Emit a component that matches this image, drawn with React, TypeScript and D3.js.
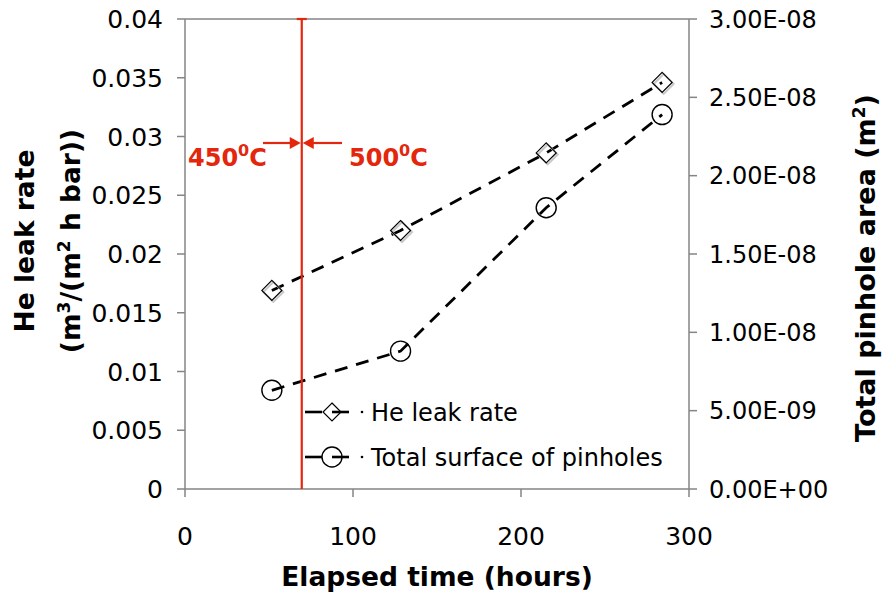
import React from "react";
import * as d3 from "d3";

const hours = [51.7, 128.3, 215, 284];
const heLeak = [0.0169, 0.0220, 0.0286, 0.0346];
const pinholeArea = [6.3e-9, 8.8e-9, 1.795e-8, 2.39e-8];
const xTicks = [0, 100, 200, 300];
const yLeftTicks = [0, 0.005, 0.01, 0.015, 0.02, 0.025, 0.03, 0.035, 0.04];
const yLeftLabels = ["0", "0.005", "0.01", "0.015", "0.02", "0.025", "0.03", "0.035", "0.04"];
const yRightTicks = [0, 5e-9, 1e-8, 1.5e-8, 2e-8, 2.5e-8, 3e-8];
const yRightLabels = ["0.00E+00", "5.00E-09", "1.00E-08", "1.50E-08", "2.00E-08", "2.50E-08", "3.00E-08"];
const transitionHour = 69.5;

const W = 884, H = 592;
const L = 185, R = 689, T = 19, B = 489;
const FONT = "'DejaVu Sans', Verdana, sans-serif";
const RED = "#e3260c";
const GRAY = "#858585";

export default function App() {
  const x = d3.scaleLinear().domain([0, 300]).range([L, R]);
  const yL = d3.scaleLinear().domain([0, 0.04]).range([B, T]);
  const yR = d3.scaleLinear().domain([0, 3e-8]).range([B, T]);

  const lineL = d3.line<number>().x((_, i) => x(hours[i])).y((d) => yL(d));
  const lineR = d3.line<number>().x((_, i) => x(hours[i])).y((d) => yR(d));

  const diamond = (cx: number, cy: number, r = 10) =>
    `M${cx},${cy - r}L${cx + r},${cy}L${cx},${cy + r}L${cx - r},${cy}Z`;

  const xr = x(transitionHour);
  const arrowY = 143;
  const TF = 26.5;

  return (
    <svg width={W} height={H} style={{ position: "absolute", left: 0, top: 0, background: "#fff" }} fontFamily={FONT}>
      <rect x={0} y={0} width={W} height={H} fill="#fff" />
      {/* frame */}
      <line x1={L} x2={R} y1={T} y2={T} stroke={GRAY} strokeWidth={1.5} />
      <line x1={L} x2={L} y1={T} y2={B} stroke={GRAY} strokeWidth={1.5} />
      <line x1={R} x2={R} y1={T} y2={B} stroke={GRAY} strokeWidth={1.5} />
      <line x1={L} x2={R} y1={B} y2={B} stroke={GRAY} strokeWidth={1.5} />

      {/* left ticks */}
      {yLeftTicks.map((t, i) => (
        <g key={"yl" + i}>
          <line x1={L - 8} x2={L} y1={yL(t)} y2={yL(t)} stroke={GRAY} strokeWidth={1.5} />
          <text x={163} y={yL(t)} dy="0.36em" textAnchor="end" fontSize={25} fill="#000">
            {yLeftLabels[i]}
          </text>
        </g>
      ))}
      {/* right ticks */}
      {yRightTicks.map((t, i) => (
        <g key={"yr" + i}>
          <line x1={R} x2={R + 8} y1={yR(t)} y2={yR(t)} stroke={GRAY} strokeWidth={1.5} />
          <text x={709} y={yR(t)} dy="0.36em" textAnchor="start" fontSize={24} fill="#000">
            {yRightLabels[i]}
          </text>
        </g>
      ))}
      {/* x ticks */}
      {xTicks.map((t, i) => (
        <g key={"x" + i}>
          <line x1={x(t)} x2={x(t)} y1={B} y2={B + 8} stroke={GRAY} strokeWidth={1.5} />
          <text x={x(t)} y={545} textAnchor="middle" fontSize={25} fill="#000">
            {t}
          </text>
        </g>
      ))}

      {/* axis titles */}
      <text x={437} y={586} textAnchor="middle" fontSize={TF} fontWeight="bold">
        Elapsed time (hours)
      </text>
      <g transform="translate(24,241) rotate(-90)">
        <text x={0} y={0} dy="0.36em" textAnchor="middle" fontSize={TF} fontWeight="bold">
          He leak rate
        </text>
      </g>
      <g transform="translate(70,241) rotate(-90)">
        <text x={0} y={0} dy="0.36em" textAnchor="middle" fontSize={TF} fontWeight="bold">
          (m<tspan dy="-10" fontSize={17}>3</tspan>
          <tspan dy="10">/(m</tspan>
          <tspan dy="-10" fontSize={17}>2</tspan>
          <tspan dy="10"> h bar))</tspan>
        </text>
      </g>
      <g transform="translate(865,268) rotate(-90)">
        <text x={0} y={0} dy="0.36em" textAnchor="middle" fontSize={27} fontWeight="bold">
          Total pinhole area (m<tspan dy="-10" fontSize={17}>2</tspan>
          <tspan dy="10">)</tspan>
        </text>
      </g>

      {/* series */}
      <path d={lineL(heLeak) || ""} fill="none" stroke="#000" strokeWidth={2.8} strokeDasharray="13,9" />
      <path d={lineR(pinholeArea) || ""} fill="none" stroke="#000" strokeWidth={2.8} strokeDasharray="13,9" />
      {heLeak.map((v, i) => (
        <g key={"d" + i}>
          <path d={diamond(x(hours[i]) + 1.5, yL(v) + 1.5)} fill="none" stroke="#c8c8c8" strokeWidth={2} />
          <path d={diamond(x(hours[i]), yL(v))} fill="none" stroke="#000" strokeWidth={1.2} />
        </g>
      ))}
      {pinholeArea.map((v, i) => (
        <circle key={"c" + i} cx={x(hours[i])} cy={yR(v)} r={10} fill="none" stroke="#000" strokeWidth={1.4} />
      ))}

      {/* transition line */}
      <line x1={xr} x2={xr} y1={T} y2={B} stroke={RED} strokeWidth={2.2} />
      <line x1={xr - 5} x2={xr + 5} y1={T} y2={T} stroke={RED} strokeWidth={2.2} />
      <line x1={263} x2={xr - 9} y1={arrowY} y2={arrowY} stroke={RED} strokeWidth={2.2} />
      <path d={`M${xr - 1},${arrowY}L${xr - 12},${arrowY - 6}L${xr - 12},${arrowY + 6}Z`} fill={RED} />
      <line x1={xr + 9} x2={342} y1={arrowY} y2={arrowY} stroke={RED} strokeWidth={2.2} />
      <path d={`M${xr + 1},${arrowY}L${xr + 12},${arrowY - 6}L${xr + 12},${arrowY + 6}Z`} fill={RED} />
      <text x={188} y={166} fontSize={24} fontWeight="bold" fill={RED}>
        450<tspan dy="-10" fontSize={16}>0</tspan>
        <tspan dy="10">C</tspan>
      </text>
      <text x={349} y={166} fontSize={24} fontWeight="bold" fill={RED}>
        500<tspan dy="-10" fontSize={16}>0</tspan>
        <tspan dy="10">C</tspan>
      </text>

      {/* legend */}
      <g>
        <line x1={305} x2={322} y1={412} y2={412} stroke="#000" strokeWidth={2.6} />
        <line x1={332} x2={349} y1={412} y2={412} stroke="#000" strokeWidth={2.6} />
        <circle cx={362} cy={412} r={1.3} fill="#000" />
        <path d={diamond(332, 412, 9)} fill="none" stroke="#000" strokeWidth={1.2} />
        <text x={371} y={412} dy="0.36em" fontSize={24} fill="#000">He leak rate</text>

        <line x1={305} x2={322} y1={457} y2={457} stroke="#000" strokeWidth={2.6} />
        <line x1={332} x2={349} y1={457} y2={457} stroke="#000" strokeWidth={2.6} />
        <circle cx={362} cy={457} r={1.3} fill="#000" />
        <circle cx={332} cy={457} r={10} fill="none" stroke="#000" strokeWidth={1.4} />
        <text x={371} y={457} dy="0.36em" fontSize={24} fill="#000">Total surface of pinholes</text>
      </g>
    </svg>
  );
}
